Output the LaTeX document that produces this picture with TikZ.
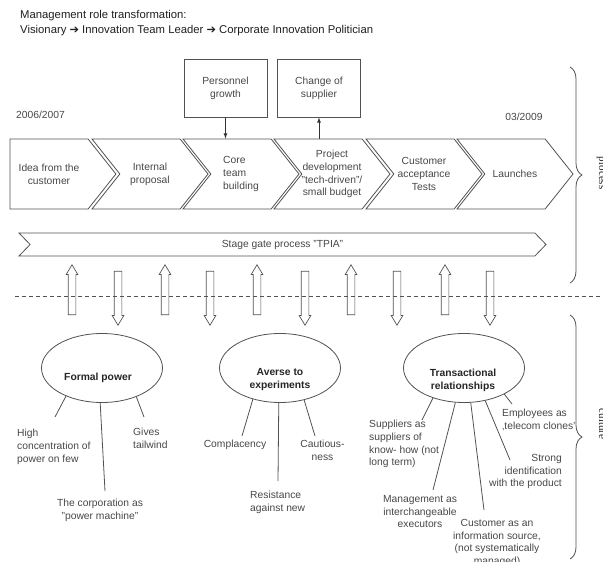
\documentclass[tikz,border=0pt]{standalone}
\usepackage{fontspec}
\setmainfont{Liberation Sans}
\newfontfamily\sidefont{Liberation Serif}
\newfontfamily\symfont{DejaVu Sans}
\usetikzlibrary{arrows,shapes.symbols,shapes.arrows,shapes.geometric,decorations.pathreplacing}
\definecolor{ink}{gray}{0.32}
\definecolor{txt}{gray}{0.28}
\newcommand\lblfont{\fontsize{10.3}{12.7}\selectfont}
\tikzstyle{stage}=[
	signal,
	draw=ink,
	line width=0.8pt,
	signal to=east,
	signal from=west,
	signal pointer angle=103,
	minimum width=116pt,
	minimum height=70pt,
	inner xsep=-6pt,
	inner ysep=1pt,
	align=center,
	text=txt,
	font=\lblfont
]
\tikzstyle{box}=[
	rectangle,
	draw=ink,
	line width=0.8pt,
	minimum width=83pt,
	minimum height=58pt,
	align=center,
	text=txt,
	font=\lblfont
]
\tikzstyle{link}=[
	-latex,
	draw=black!80,
	line width=0.8pt
]
\tikzstyle{hollow}=[
	single arrow,
	draw=ink,
	fill=white,
	line width=0.7pt,
	minimum height=50pt,
	minimum width=11pt,
	inner xsep=0pt,
	inner ysep=3.5pt,
	single arrow head extend=2pt,
	single arrow tip angle=62
]
\tikzstyle{culture}=[
	ellipse,
	draw=ink,
	line width=0.8pt,
	minimum width=121pt,
	minimum height=69pt,
	inner sep=0pt
]
\tikzstyle{ctitle}=[
	inner sep=0pt,
	align=center,
	text=black!85,
	font=\fontsize{10.3}{13}\selectfont\bfseries
]
\tikzstyle{lbl}=[
	inner sep=0pt,
	text=txt,
	font=\lblfont
]
\tikzstyle{spoke}=[
	-,
	draw=ink,
	line width=0.8pt
]
\tikzstyle{brace}=[
	draw=ink,
	line width=0.8pt,
	decorate,
	decoration={brace,amplitude=12pt}
]
\tikzstyle{side}=[
	inner sep=0pt,
	rotate=-90,
	anchor=base,
	text=black!85,
	font=\fontsize{11}{13}\sidefont
]

\begin{document}
\begin{tikzpicture}[x=1pt,y=-1pt]
\useasboundingbox (0,0) rectangle (603,562);

% heading
\node[anchor=north west, align=left, inner sep=0pt, text=black!88,
      font=\fontsize{11.3}{15}\selectfont] (title) at (20,9.8)
      {Management role transformation:\\Visionary {\symfont ➔} Innovation Team Leader {\symfont ➔} Corporate Innovation Politician};

\node[lbl] (start) at (40.5,115) {2006/2007};
\node[lbl] (end) at (524,117) {03/2009};

% process chain
\node[stage, signal from=nowhere, minimum width=106pt] (idea) at (49,174) {Idea from the\\customer};
\node[stage] (internal) at (150,174) {Internal\\proposal};
\node[stage, align=left] (core) at (241,174) {Core\\team\\building};
\node[stage] (devel) at (332,174) {Project\\development\\"tech-driven"/\\small budget};
\node[stage] (accept) at (424,174) {Customer\\acceptance\\Tests};
\node[stage] (launch) at (515,174) {Launches};

\node[stage, minimum width=527pt, minimum height=23pt, signal pointer angle=92] (gate) at (282.5,244.5) {Stage gate process "TPIA"};

\node[box] (growth) at (225.5,88) {Personnel\\growth};
\node[box] (supplier) at (319,88) {Change of\\supplier};

\draw[link] (growth) -- (growth |- core.north);
\draw[link] (devel.north -| supplier) -- (supplier);

% interplay
\foreach \x in {72,165,257,351,445}
	\node[hollow, rotate=90] (up\x) at (\x,293) {};
\foreach \x in {118,210,305,397,490}
	\node[hollow, rotate=-90, minimum height=54pt] (down\x) at (\x,295) {};

\draw[draw=ink, line width=0.8pt, dash pattern=on 4pt off 3pt] (15,296) -- (603,296);

% culture
\node[culture] (formal) at (102,368) {};
\node[culture] (averse) at (280,368) {};
\node[culture] (trans) at (464,368) {};
\node[ctitle] (formal-t) at (98,378) {Formal power};
\node[ctitle] (averse-t) at (280,380) {Averse to\\experiments};
\node[ctitle] (trans-t) at (463,380) {Transactional\\relationships};

\node[lbl, anchor=north west, align=left] (high) at (17,429.2) {High\\concentration of\\power on few};
\node[lbl, anchor=north, align=center] (corp) at (100,499.2) {The corporation as\\"power machine"};
\node[lbl, anchor=north west, align=left] (tail) at (133,428.2) {Gives\\tailwind};
\node[lbl, anchor=north] (compl) at (235,440.2) {Complacency};
\node[lbl, anchor=north west, align=left] (resist) at (250,491.2) {Resistance\\against new};
\node[lbl, anchor=north, align=center] (caut) at (322.5,440.2) {Cautious-\\ness};
\node[lbl, anchor=north west, align=left] (supp) at (369,420.2) {Suppliers as\\suppliers of\\know- how (not\\long term)};
\node[lbl, anchor=north, align=center] (mgmt) at (420,495.2) {Management as\\interchangeable\\executors};
\node[lbl, anchor=north, align=center] (cust) at (497,519.2) {Customer as an\\information source,\\(not systematically\\managed)};
\node[lbl, anchor=north east, align=right] (strong) at (562,454.2) {Strong\\identification\\with the product};
\node[lbl, anchor=north west, align=left] (empl) at (502,409.2) {Employees as\\‚telecom clones'};

\coordinate (high-e) at (55,417);
\coordinate (corp-e) at (105,491);
\coordinate (tail-e) at (144,417);
\coordinate (compl-e) at (242,436);
\coordinate (resist-e) at (278,481);
\coordinate (caut-e) at (315,436);
\coordinate (supp-e) at (422,420);
\coordinate (mgmt-e) at (433,490);
\coordinate (cust-e) at (484,510);
\coordinate (strong-e) at (510,460);
\coordinate (empl-e) at (512,404);

\draw[spoke] (formal.218) -- (high-e);
\draw[spoke] (formal.267) -- (corp-e);
\draw[spoke] (formal.320) -- (tail-e);
\draw[spoke] (averse.229) -- (compl-e);
\draw[spoke] (averse.268) -- (resist-e);
\draw[spoke] (averse.307) -- (caut-e);
\draw[spoke] (trans.224) -- (supp-e);
\draw[spoke] (trans.256) -- (mgmt-e);
\draw[spoke] (trans.281) -- (cust-e);
\draw[spoke] (trans.303) -- (strong-e);
\draw[spoke] (trans.327) -- (empl-e);

% side braces
\coordinate (p-top) at (570,67);
\coordinate (p-bot) at (570,283);
\coordinate (c-top) at (570,315);
\coordinate (c-bot) at (570,559);
\draw[brace] (p-top) -- (p-bot);
\draw[brace] (c-top) -- (c-bot);
\node[side] (proc) at (599,173) {process};
\node[side] (cult) at (599,424) {culture};

\end{tikzpicture}
\end{document}
